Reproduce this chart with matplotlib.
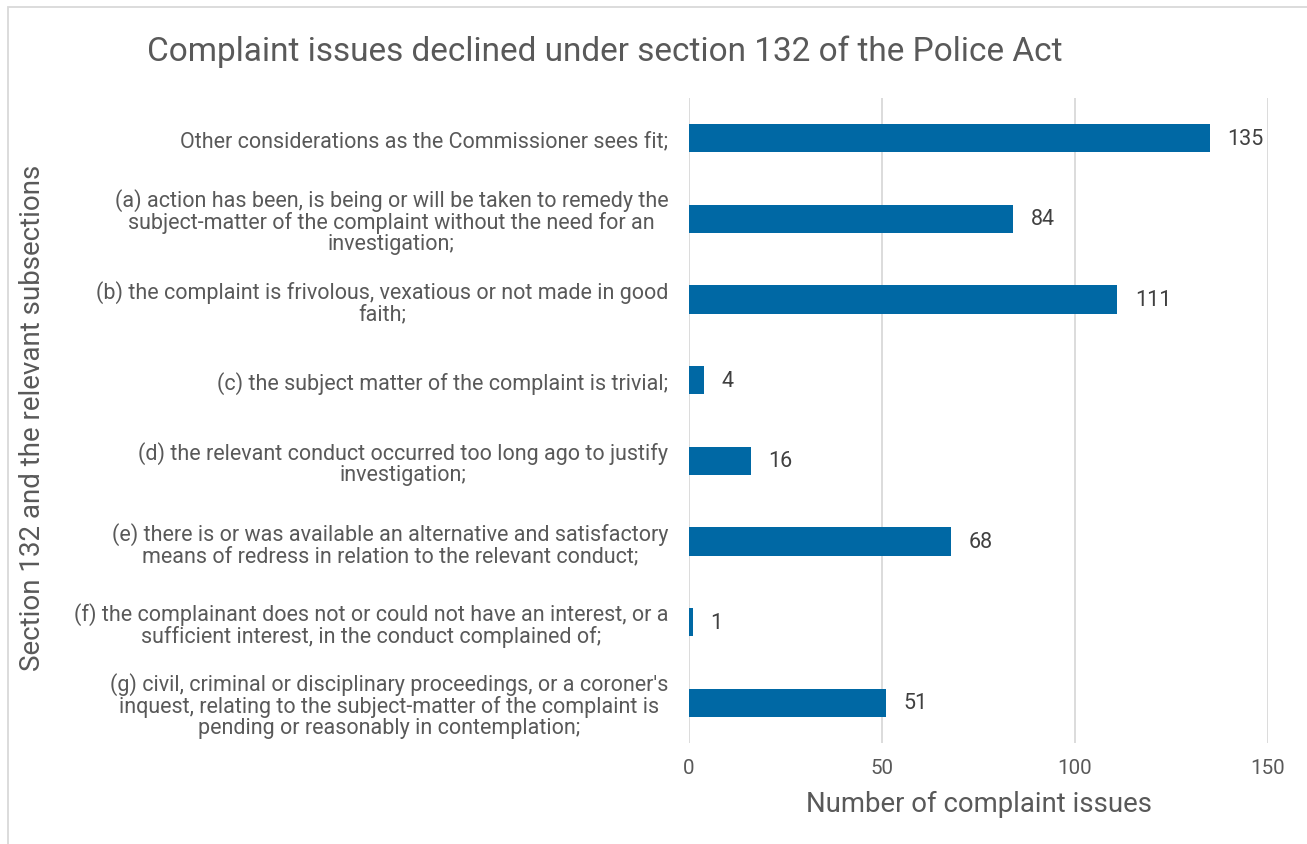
import matplotlib
matplotlib.use("Agg")
import matplotlib.pyplot as plt
from matplotlib.patches import Rectangle

# data
categories = [
    "Other considerations as the Commissioner sees fit;",
    "(a) action has been, is being or will be taken to remedy the\nsubject-matter of the complaint without the need for an\ninvestigation;",
    "(b) the complaint is frivolous, vexatious or not made in good\nfaith;",
    "(c) the subject matter of the complaint is trivial;",
    "(d) the relevant conduct occurred too long ago to justify\ninvestigation;",
    "(e) there is or was available an alternative and satisfactory\nmeans of redress in relation to the relevant conduct;",
    "(f) the complainant does not or could not have an interest, or a\nsufficient interest, in the conduct complained of;",
    "(g) civil, criminal or disciplinary proceedings, or a coroner's\ninquest, relating to the subject-matter of the complaint is\npending or reasonably in contemplation;",
]
values = [135, 84, 111, 4, 16, 68, 1, 51]
xticks = [0, 50, 100, 150]

plt.rcParams['font.family'] = ['Roboto', 'DejaVu Sans']
text_col = '#595959'
bar_col = '#0068A4'

fig = plt.figure(figsize=(13.07, 8.45), dpi=100)
ax = fig.add_axes([689/1307, 1-744/845, (1268-689)/1307, (744-99)/845])

pos = list(range(len(categories)))
ax.barh(pos, values, height=0.35, color=bar_col, zorder=3)
for p, v in zip(pos, values):
    ax.text(v + 4.5, p, str(v), va='center', ha='left', fontsize=15.5, color='#404040')

ax.set_ylim(len(categories) - 0.5, -0.5)
ax.set_xlim(0, 150)
ax.set_xticks(xticks)
ax.set_yticks(pos)
ax.set_yticklabels(categories, multialignment='center', fontsize=15.5, color=text_col,
                   linespacing=1.0)
ax.tick_params(axis='both', length=0)
ax.tick_params(axis='y', pad=15)
ax.tick_params(axis='x', pad=11, labelsize=14.8, labelcolor=text_col)
ax.grid(axis='x', color='#D9D9D9', linewidth=1.3, zorder=0)
for s in ax.spines.values():
    s.set_visible(False)

ax.set_xlabel('Number of complaint issues', fontsize=19.8, color=text_col, labelpad=9)
fig.text(33/1307, 1-418/845, 'Section 132 and the relevant subsections', rotation=90,
         ha='center', va='center', fontsize=20, color=text_col)
fig.text(605/1307, 1-52/845, 'Complaint issues declined under section 132 of the Police Act',
         ha='center', va='center', fontsize=24, color=text_col)

# chart border
fig.patches.append(Rectangle((8/1307, -0.01), 1.1, 1-8/845+0.01, transform=fig.transFigure,
                             fill=False, edgecolor='#D9D9D9', linewidth=1.3))

fig.savefig('out.png', dpi=100)
